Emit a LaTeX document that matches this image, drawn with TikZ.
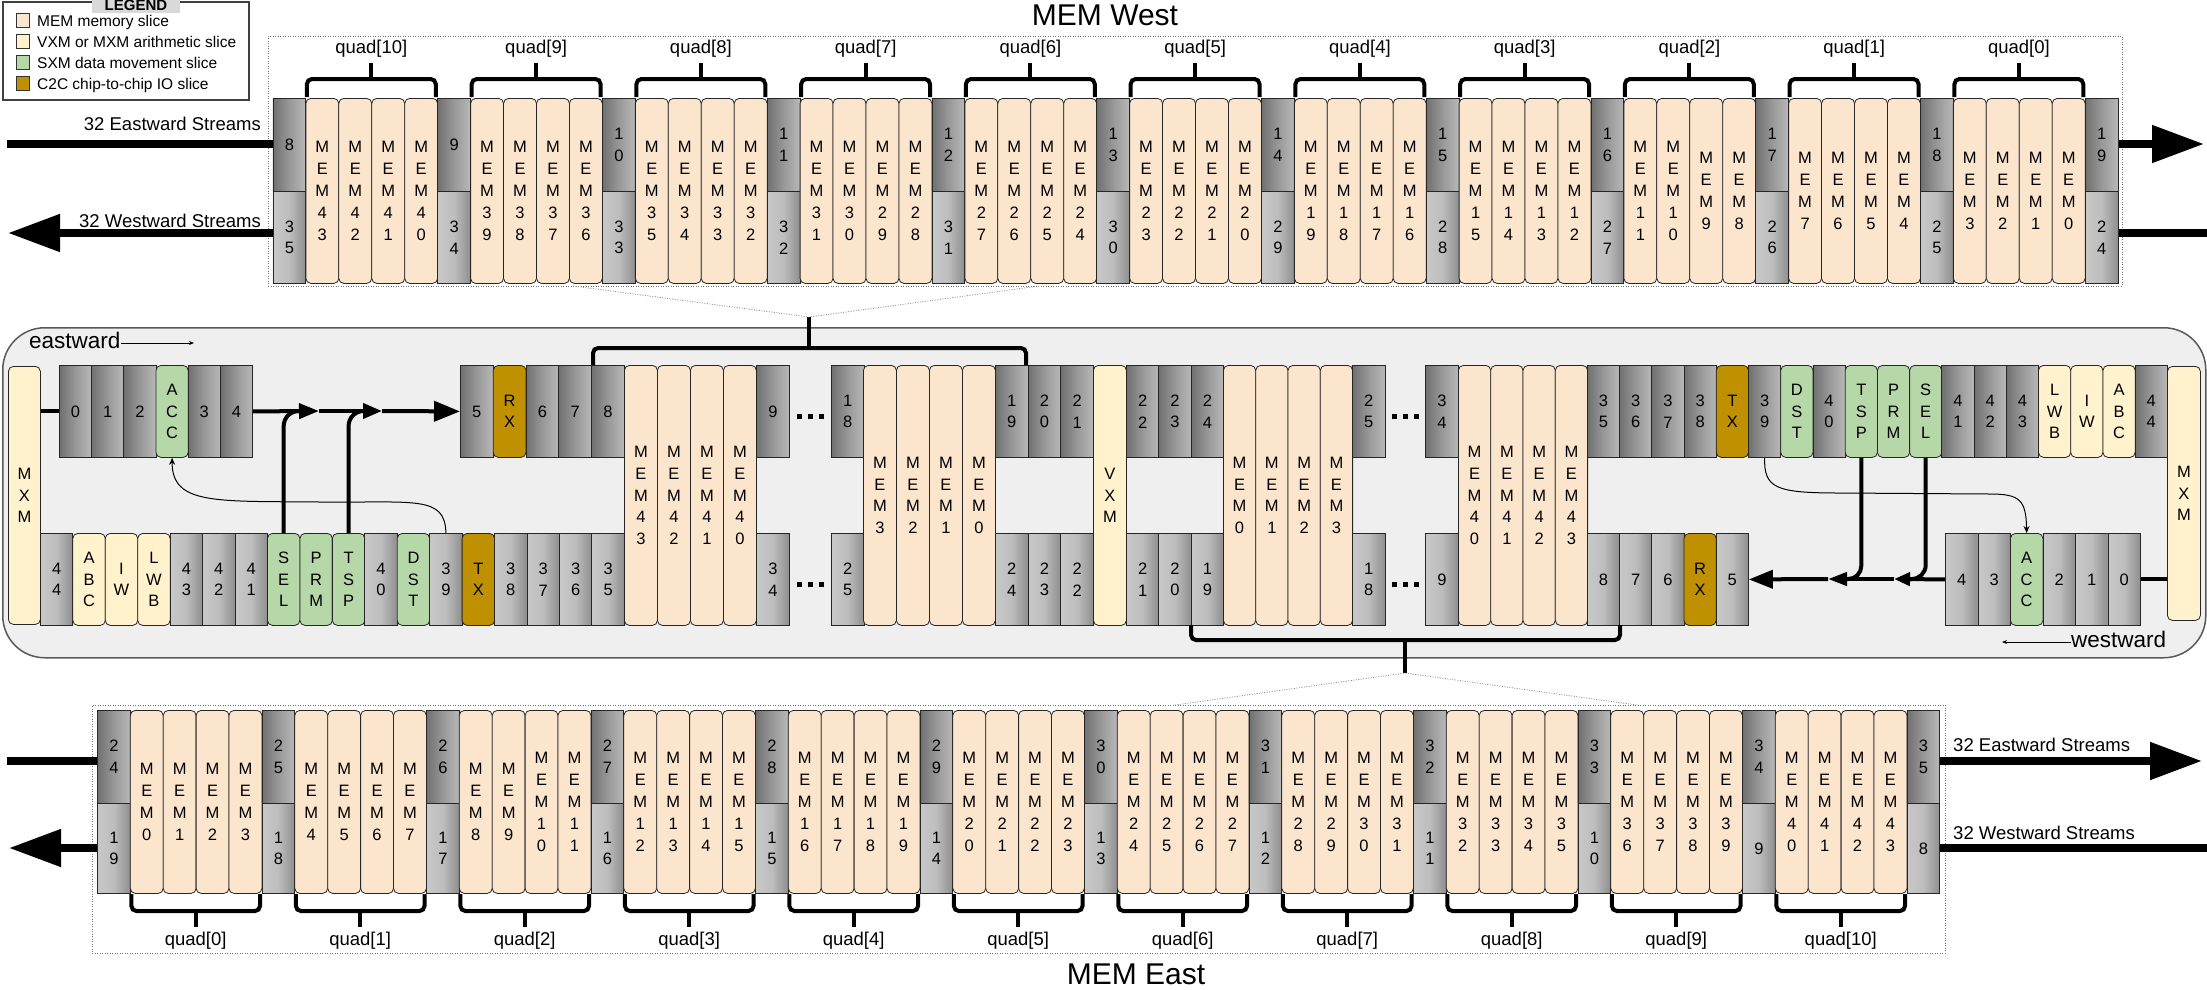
\documentclass[tikz,border=0pt]{standalone}
\usepackage{fontspec}
\setmainfont{Liberation Sans}
\usetikzlibrary{arrows.meta,calc}
\definecolor{memc}{HTML}{FCE5CD}
\definecolor{vxmc}{HTML}{FFF2CC}
\definecolor{sxmc}{HTML}{B6D7A8}
\definecolor{ctcc}{HTML}{BF9000}
\definecolor{bgc}{HTML}{EFEFEF}
\definecolor{gdl}{HTML}{707070}
\definecolor{gdm}{HTML}{989898}
\definecolor{gdr}{HTML}{B8B8B8}
\definecolor{gll}{HTML}{C8C8C8}
\definecolor{glm}{HTML}{BDBDBD}
\definecolor{glr}{HTML}{8E8E8E}
\newcommand\slfont{\fontsize{16.5}{21.8}\selectfont}
\newcommand\txfont{\fontsize{18.5}{22}\selectfont}
\newcommand\stk[2]{%
  \pgfmathtruncatemacro\stkt{#1/10}%
  \pgfmathtruncatemacro\stko{#1-10*\stkt}%
  \ifnum#1>9 \edef#2{\stkt\noexpand\\\stko}\else\edef#2{#1}\fi}
\newcommand\cellrun[6]{%
  \foreach \s/\t [count=\k from 0] in {#6}{%
    \pgfmathsetmacro\xx{#2+#3*\k}%
    \node[\s,minimum width=#3pt,minimum height=#5pt,anchor=north west] (#1\k) at (\xx,#4) {\t};
  }}
\begin{document}
\begin{tikzpicture}[x=1pt,y=-1pt,
  base/.style={draw=black!85,line width=0.8pt,inner sep=0pt,align=center,font=\slfont},
  memslice/.style={base,fill=memc,rounded corners=5pt},
  arith/.style={base,fill=vxmc,rounded corners=5pt},
  sxm/.style={base,fill=sxmc,rounded corners=5pt},
  ctc/.style={base,fill=ctcc,rounded corners=5pt},
  gdark/.style={base,left color=gdl,right color=gdr,middle color=gdm},
  glight/.style={base,left color=gll,right color=glr,middle color=glm},
  txt/.style={font=\txfont,inner sep=0pt},
  dotbox/.style={draw=black!55,line width=0.8pt,dash pattern=on 1pt off 1.5pt,inner sep=0pt},
  dotln/.style={draw=black!45,line width=0.8pt,dash pattern=on 1pt off 1.5pt},
  bracket/.style={line width=4pt,rounded corners=5pt},
  stream/.style={line width=8pt},
  streamtip/.style={line width=8pt,-{Triangle[length=52pt,width=36pt]}},
  thickln/.style={line width=4pt},
  thinarr/.style={line width=1pt,-{Stealth[length=7pt,width=6pt]}}]
\useasboundingbox (0,0) rectangle (2207,989);

% ================= MEM West =================
\node[dotbox,minimum width=1854pt,minimum height=250pt,anchor=north west] (wbox) at (268,36) {};
\node[font=\fontsize{30}{30}\selectfont,anchor=base,inner sep=0pt] (wtitle) at (1105,25) {MEM West};
\foreach \i in {0,...,55}{
  \pgfmathsetmacro\xx{272.5+32.95*\i}
  \pgfmathtruncatemacro\g{\i/5}
  \pgfmathtruncatemacro\j{\i-5*\g}
  \ifnum\j=0
    \pgfmathtruncatemacro\na{8+\g}\stk\na\laba
    \pgfmathtruncatemacro\nb{35-\g}\stk\nb\labb
    \node[gdark,minimum width=32.95pt,minimum height=93pt,anchor=north west] (wa\g) at (\xx,98) {\laba};
    \node[glight,minimum width=32.95pt,minimum height=92pt,anchor=north west] (wb\g) at (\xx,191) {\labb};
  \else
    \pgfmathtruncatemacro\m{4*(10-\g)+4-\j}\stk\m\labm
    \node[memslice,minimum width=32.95pt,minimum height=185pt,anchor=north west] (wm\m) at (\xx,98) {M\\E\\M\\\labm};
  \fi
}
\foreach \g in {0,...,10}{
  \pgfmathsetmacro\xl{272.5+32.95*(5*\g+1)+1.5}
  \pgfmathsetmacro\xr{272.5+32.95*(5*\g+5)-1.5}
  \pgfmathsetmacro\xm{(\xl+\xr)/2}
  \pgfmathtruncatemacro\q{10-\g}
  \draw[bracket] (\xl,97) -- (\xl,79) -- (\xr,79) -- (\xr,97);
  \draw[bracket] (\xm,79) -- (\xm,63);
  \node[txt,anchor=base] (wq\q) at (\xm,53) {quad[\q]};
}
\coordinate (wein) at (7,144);
\coordinate (weout) at (2204,144);
\coordinate (wwin) at (2207,233);
\coordinate (wwout) at (8,233);
\draw[stream] (wein) -- (wein -| wa0.west);
\draw[streamtip] (weout -| wa11.east) -- (weout);
\draw[stream] (wwin) -- (wwin -| wb11.east);
\draw[streamtip] (wwout -| wb0.west) -- (wwout);
\node[txt,anchor=base east] (wetxt) at (261,130) {32 Eastward Streams};
\node[txt,anchor=base east] (wwtxt) at (261,227) {32 Westward Streams};

% ================= Legend =================
\node[draw=black!75,line width=1.5pt,fill=white,minimum width=246pt,minimum height=98pt,anchor=north west,inner sep=0pt] (legend) at (2,1) {};
\node[fill=black!15,minimum width=88pt,minimum height=14pt,anchor=north west,inner sep=0pt] (leghead) at (92,-1) {};
\node[font=\bfseries\fontsize{15}{15}\selectfont,anchor=base,inner sep=0pt] (legtitle) at (136,10) {LEGEND};
\foreach \c/\t/\yy [count=\k] in {memc/MEM memory slice/13,vxmc/VXM or MXM arithmetic slice/34,sxmc/SXM data movement slice/55,ctcc/C2C chip-to-chip IO slice/76}{
  \node[draw=black!80,line width=0.8pt,fill=\c,minimum width=13pt,minimum height=14pt,anchor=north west,inner sep=0pt] (lk\k) at (16,\yy) {};
  \node[font=\fontsize{15.5}{16}\selectfont,anchor=base west,inner sep=0pt] (lt\k) at (37,\yy+13) {\t};
}

% ================= middle (chip) =================
\node[draw=black!65,line width=1.5pt,fill=bgc,rounded corners=42pt,minimum width=2203pt,minimum height=330pt,anchor=north west,inner sep=0pt] (midbox) at (2,327) {};
\node[font=\fontsize{22.5}{23}\selectfont,anchor=base west,inner sep=0pt] (eastlbl) at (29,348) {eastward};
\node[font=\fontsize{22.5}{23}\selectfont,anchor=base west,inner sep=0pt] (westlbl) at (2071,647) {westward};
\coordinate (eaend) at (194,343);
\coordinate (waend) at (2002,642);
\draw[line width=0.8pt,-{Stealth[length=5pt,width=4pt]}] (eastlbl.east |- eaend) -- (eaend);
\draw[line width=0.8pt,-{Stealth[length=5pt,width=4pt]}] (westlbl.west |- waend) -- (waend);

\cellrun{mxl}{8}{32}{366}{258}{arith/M\\X\\M}
\cellrun{mxr}{2167}{33}{366}{254}{arith/M\\X\\M}
\cellrun{tl}{59}{32.2}{365}{92}{gdark/0,gdark/1,gdark/2,sxm/A\\C\\C,gdark/3,gdark/4}
\cellrun{bl}{40}{32.44}{533}{92}{glight/4\\4,arith/A\\B\\C,arith/I\\W,arith/L\\W\\B,glight/4\\3,glight/4\\2,glight/4\\1,sxm/S\\E\\L,sxm/P\\R\\M,sxm/T\\S\\P,glight/4\\0,sxm/D\\S\\T,glight/3\\9,ctc/T\\X,glight/3\\8,glight/3\\7,glight/3\\6,glight/3\\5}
\cellrun{tr}{460}{32.8}{365}{92}{gdark/5,ctc/R\\X,gdark/6,gdark/7,gdark/8}
\cellrun{ml}{624}{33}{365}{260}{memslice/M\\E\\M\\4\\3,memslice/M\\E\\M\\4\\2,memslice/M\\E\\M\\4\\1,memslice/M\\E\\M\\4\\0}
\cellrun{ga}{756}{33}{365}{92}{gdark/9}
\cellrun{gb}{756}{33}{533}{92}{glight/3\\4}
\cellrun{gc}{831}{32.5}{365}{92}{gdark/1\\8}
\cellrun{gd}{831}{32.5}{533}{92}{glight/2\\5}
\cellrun{mc}{863}{33}{365}{260}{memslice/M\\E\\M\\3,memslice/M\\E\\M\\2,memslice/M\\E\\M\\1,memslice/M\\E\\M\\0}
\cellrun{ge}{995}{32.7}{365}{92}{gdark/1\\9,gdark/2\\0,gdark/2\\1}
\cellrun{gf}{995}{32.7}{533}{92}{glight/2\\4,glight/2\\3,glight/2\\2}
\cellrun{vx}{1093}{33}{365}{260}{arith/V\\X\\M}
\cellrun{gg}{1126}{32.4}{365}{92}{gdark/2\\2,gdark/2\\3,gdark/2\\4}
\cellrun{gh}{1126}{32.4}{533}{92}{glight/2\\1,glight/2\\0,glight/1\\9}
\cellrun{mr}{1223}{32.3}{365}{260}{memslice/M\\E\\M\\0,memslice/M\\E\\M\\1,memslice/M\\E\\M\\2,memslice/M\\E\\M\\3}
\cellrun{gi}{1352}{32.5}{365}{92}{gdark/2\\5}
\cellrun{gj}{1352}{32.5}{533}{92}{glight/1\\8}
\cellrun{gk}{1425}{33}{365}{92}{gdark/3\\4}
\cellrun{gl}{1425}{33}{533}{92}{glight/9}
\cellrun{ms}{1458}{32.3}{365}{260}{memslice/M\\E\\M\\4\\0,memslice/M\\E\\M\\4\\1,memslice/M\\E\\M\\4\\2,memslice/M\\E\\M\\4\\3}
\cellrun{rt}{1587}{32.22}{365}{92}{gdark/3\\5,gdark/3\\6,gdark/3\\7,gdark/3\\8,ctc/T\\X,gdark/3\\9,sxm/D\\S\\T,gdark/4\\0,sxm/T\\S\\P,sxm/P\\R\\M,sxm/S\\E\\L,gdark/4\\1,gdark/4\\2,gdark/4\\3,arith/L\\W\\B,arith/I\\W,arith/A\\B\\C,gdark/4\\4}
\cellrun{rb}{1587}{32.2}{533}{92}{glight/8,glight/7,glight/6,ctc/R\\X,glight/5}
\cellrun{br}{1945}{32.5}{533}{92}{glight/4,glight/3,sxm/A\\C\\C,glight/2,glight/1,glight/0}

% ellipses
\foreach \xd in {797,1392}{
  \foreach \d in {0,1,2}{
    \fill ({\xd+11*\d},414) rectangle ++(5,5);
    \fill ({\xd+11*\d},582) rectangle ++(5,5);
  }
}

% eastward datapath
\coordinate (pe1) at (319,411);
\coordinate (pe2) at (382,411);
\coordinate (jl1) at (300,411);
\coordinate (jl2) at (365,411);
\draw[thickln] (mxl0.east |- tl0.west) -- (tl0.west);
\draw[thickln,-{Triangle[length=20pt,width=15pt]}] (tl5.east) -- (pe1);
\draw[thickln,-{Triangle[length=19pt,width=15pt]}] (pe1) -- (pe2);
\draw[thickln,-{Triangle[length=26pt,width=20pt]}] (pe2) -- (tr0.west);
\draw[thickln,rounded corners=15pt] (bl7.north) |- (jl1);
\draw[thickln,rounded corners=15pt] (bl9.north) |- (jl2);
\draw[thinarr] (bl12.north) .. controls (445,495) and (415,503) .. (320,502) .. controls (215,501) and (172,505) .. (tl3.south);

% westward datapath
\coordinate (pw2) at (1894,579);
\coordinate (pw1) at (1828,579);
\coordinate (jr1) at (1847,579);
\coordinate (jr2) at (1910,579);
\draw[thickln] (mxr0.west |- br5.east) -- (br5.east);
\draw[thickln,-{Triangle[length=16pt,width=13pt]}] (br0.west) -- (pw2);
\draw[thickln,-{Triangle[length=19pt,width=13pt]}] (pw2) -- (pw1);
\draw[thickln,-{Triangle[length=24pt,width=18pt]}] (pw1) -- (rb4.east);
\draw[thickln,rounded corners=13pt] (rt8.south) |- (jr1);
\draw[thickln,rounded corners=14pt] (rt10.south) |- (jr2);
\draw[thinarr] (rt5.south) .. controls (1764,488) and (1775,493) .. (1840,493) -- (1990,494) .. controls (2020,494) and (2026,500) .. (br2.north);

% zoom brackets
\coordinate (ttick) at (809,317);
\coordinate (tdl) at (573,286);
\coordinate (tdr) at (1039,286);
\draw[bracket] (593,365) -- (593,348) -- (1026,348) -- (1026,365);
\draw[bracket] (809,348) -- (ttick);
\draw[dotln] (tdl) -- (ttick) -- (tdr);
\coordinate (btick) at (1405,673);
\coordinate (bdl) at (1175,705);
\coordinate (bdr) at (1637,705);
\draw[bracket] (1191,625) -- (1191,640) -- (1620,640) -- (1620,625);
\draw[bracket] (1405,640) -- (btick);
\draw[dotln] (bdl) -- (btick) -- (bdr);

% ================= MEM East =================
\node[dotbox,minimum width=1853pt,minimum height=248pt,anchor=north west] (ebox) at (92,705) {};
\node[font=\fontsize{30}{30}\selectfont,anchor=base,inner sep=0pt] (etitle) at (1136,984) {MEM East};
\foreach \i in {0,...,55}{
  \pgfmathsetmacro\xx{97+32.9*\i}
  \pgfmathtruncatemacro\g{\i/5}
  \pgfmathtruncatemacro\j{\i-5*\g}
  \ifnum\j=0
    \pgfmathtruncatemacro\na{24+\g}\stk\na\laba
    \pgfmathtruncatemacro\nb{19-\g}\stk\nb\labb
    \node[gdark,minimum width=32.9pt,minimum height=93pt,anchor=north west] (xa\g) at (\xx,710) {\laba};
    \node[glight,minimum width=32.9pt,minimum height=90pt,anchor=north west] (xb\g) at (\xx,803) {\labb};
  \else
    \pgfmathtruncatemacro\m{4*\g+\j-1}\stk\m\labm
    \node[memslice,minimum width=32.9pt,minimum height=183pt,anchor=north west] (xm\m) at (\xx,710) {M\\E\\M\\\labm};
  \fi
}
\foreach \g in {0,...,10}{
  \pgfmathsetmacro\xl{97+32.9*(5*\g+1)+1.5}
  \pgfmathsetmacro\xr{97+32.9*(5*\g+5)-1.5}
  \pgfmathsetmacro\xm{(\xl+\xr)/2}
  \draw[bracket] (\xl,894) -- (\xl,911) -- (\xr,911) -- (\xr,894);
  \draw[bracket] (\xm,911) -- (\xm,927);
  \node[txt,anchor=base] (xq\g) at (\xm,945) {quad[\g]};
}
\coordinate (xein) at (7,761);
\coordinate (xeout) at (2202,761);
\coordinate (xwin) at (2207,848);
\coordinate (xwout) at (9,848);
\draw[stream] (xein) -- (xein -| xa0.west);
\draw[streamtip] (xeout -| xa11.east) -- (xeout);
\draw[stream] (xwin) -- (xwin -| xb11.east);
\draw[streamtip] (xwout -| xb0.west) -- (xwout);
\node[txt,anchor=base west] (xetxt) at (1953,751) {32 Eastward Streams};
\node[txt,anchor=base west] (xwtxt) at (1953,839) {32 Westward Streams};
\end{tikzpicture}
\end{document}
